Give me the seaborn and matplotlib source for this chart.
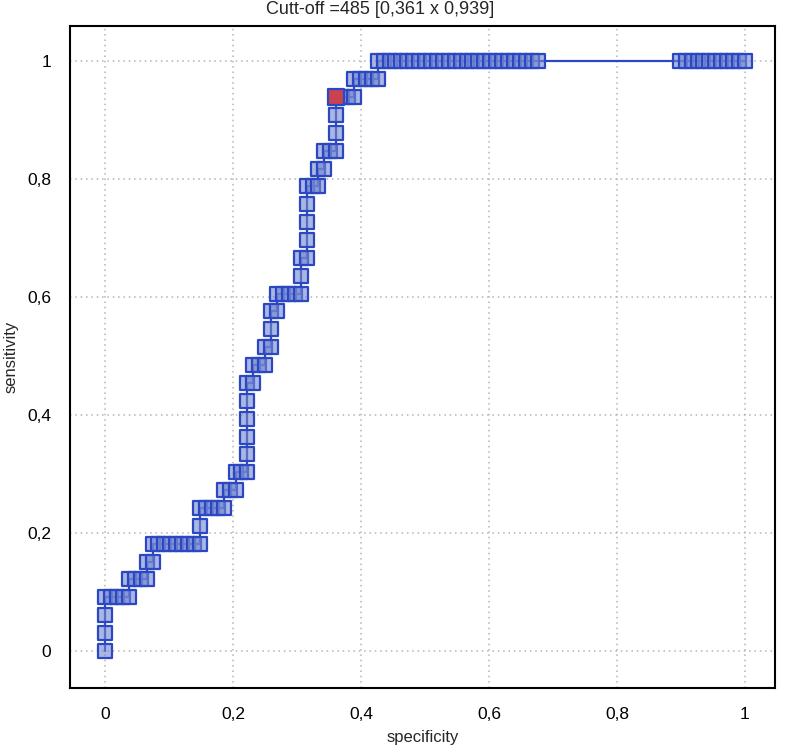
import numpy as np
import pandas as pd
import seaborn as sns
import matplotlib.pyplot as plt
from matplotlib.ticker import FuncFormatter

# --- ROC points (counts: false positives out of 108, true positives out of 33) ---
n_neg = 108
n_pos = 33
fp_count = [0, 0, 0,
            0, 1, 2, 3, 4,
            4, 5, 6, 7,
            7, 8,
            8, 9, 10, 11, 12, 13, 14, 15, 16,
            16,
            16, 17, 18, 19, 20,
            20, 21, 22,
            22, 23, 24,
            24, 24, 24, 24,
            24, 25,
            25, 26, 27,
            27, 28,
            28,
            28, 29,
            29, 30, 31, 32, 33,
            33,
            33, 34,
            34, 34, 34,
            34, 35, 36,
            36, 37,
            37, 38, 39,
            39, 39,
            39, 40, 41, 42,
            42, 43, 44, 45, 46,
            46, 47, 48, 49, 50, 51, 52, 53, 54, 55, 56, 57, 58, 59,
            60, 61, 62, 63, 64, 65, 66, 67, 68, 69, 70, 71, 72, 73,
            97, 98, 99, 100, 101, 102, 103, 104, 105, 106, 107, 108]
tp_count = [0, 1, 2,
            3, 3, 3, 3, 3,
            4, 4, 4, 4,
            5, 5,
            6, 6, 6, 6, 6, 6, 6, 6, 6,
            7,
            8, 8, 8, 8, 8,
            9, 9, 9,
            10, 10, 10,
            11, 12, 13, 14,
            15, 15,
            16, 16, 16,
            17, 17,
            18,
            19, 19,
            20, 20, 20, 20, 20,
            21,
            22, 22,
            23, 24, 25,
            26, 26, 26,
            27, 27,
            28, 28, 28,
            29, 30,
            31, 31, 31, 31,
            32, 32, 32, 32, 32,
            33, 33, 33, 33, 33, 33, 33, 33, 33, 33, 33, 33, 33, 33,
            33, 33, 33, 33, 33, 33, 33, 33, 33, 33, 33, 33, 33, 33,
            33, 33, 33, 33, 33, 33, 33, 33, 33, 33, 33, 33]

cutoff_x = 0.361
cutoff_y = 0.939
title = "Cutt-off =485 [0,361 x 0,939]"

df = pd.DataFrame({"specificity": np.array(fp_count) / n_neg,
                   "sensitivity": np.array(tp_count) / n_pos})

sns.set_style("white")
plt.rcParams['font.family'] = ['Liberation Sans Narrow', 'Liberation Sans', 'DejaVu Sans']

fig = plt.figure(figsize=(7.88, 7.54), dpi=100)
ax = fig.add_axes([70 / 788, 1 - 688 / 754, 705 / 788, 662 / 754])

line_col = "#2b48c2"
sns.lineplot(data=df, x="specificity", y="sensitivity", sort=False, estimator=None,
             color=line_col, linewidth=1.6, ax=ax, zorder=2)
sns.scatterplot(data=df, x="specificity", y="sensitivity", marker="s", s=96,
                facecolor=(0.45, 0.53, 0.82, 0.6), edgecolor=line_col,
                linewidth=1.6, ax=ax, zorder=3)
sns.scatterplot(x=[cutoff_x], y=[cutoff_y], marker="s", s=135,
                facecolor="#c8424f", edgecolor=line_col, linewidth=1.6,
                ax=ax, zorder=4)

ax.set_xlim(-0.055, 1.047)
ax.set_ylim(-0.063, 1.06)
ticks = [0, 0.2, 0.4, 0.6, 0.8, 1]
ax.set_xticks(ticks)
ax.set_yticks(ticks)
fmt = FuncFormatter(lambda v, p: "0" if v == 0 else ("1" if v == 1 else f"{v:.1f}".replace(".", ",")))
ax.xaxis.set_major_formatter(fmt)
ax.yaxis.set_major_formatter(fmt)
ax.tick_params(direction="inout", length=13, width=1.5, colors="black",
               labelsize=12.5, pad=7)
ax.grid(True, linestyle=(0, (1, 2.5)), color="#b4b4b4", linewidth=1.1)
for sp in ax.spines.values():
    sp.set_color("black")
    sp.set_linewidth(1.5)

ax.set_xlabel("specificity", fontsize=12, labelpad=6)
ax.set_ylabel("sensitivity", fontsize=12, labelpad=6)
fig.text(380 / 788, 1 - 10 / 754, title, ha="center", va="center", fontsize=13)

fig.savefig("out.png", dpi=100)
